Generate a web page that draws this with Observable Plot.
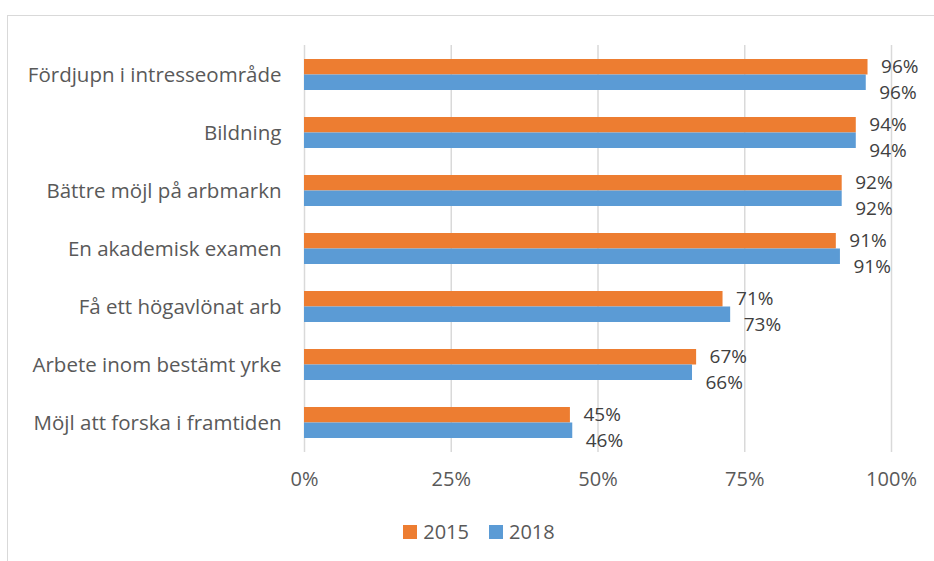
<!DOCTYPE html>
<html>
<head>
<meta charset="utf-8">
<script src="https://cdn.jsdelivr.net/npm/d3@7"></script>
<script src="https://cdn.jsdelivr.net/npm/@observablehq/plot@0.6"></script>
<style>
  html, body { margin: 0; padding: 0; background: #fff; overflow: hidden; }
  #wrap { position: relative; width: 934px; height: 561px; }
  #frame { position: absolute; left: 7px; top: 15px; width: 1000px; height: 1000px;
           border: 1.5px solid #d9d9d9; box-sizing: border-box; }
  #chart { position: absolute; left: 0; top: 0; }
  #legend { position: absolute; left: 24px; top: 518px; width: 910px; display: flex;
            justify-content: center; align-items: center; gap: 0;
            font-family: "Open Sans", sans-serif; font-size: 20px; color: #595959; }
  .item { display: flex; align-items: center; margin: 0 10px 0 10px; }
  .sw { width: 14px; height: 14px; margin-right: 6px; }
</style>
</head>
<body>
<div id="wrap">
  <div id="frame"></div>
  <div id="chart"></div>
  <div id="legend"></div>
</div>
<script>
const categories = [
  "Fördjupn i intresseområde",
  "Bildning",
  "Bättre möjl på arbmarkn",
  "En akademisk examen",
  "Få ett högavlönat arb",
  "Arbete inom bestämt yrke",
  "Möjl att forska i framtiden"
];
const values2015 = [96.0, 94.0, 91.6, 90.6, 71.3, 66.8, 45.3];
const values2018 = [95.7, 94.0, 91.6, 91.3, 72.6, 66.1, 45.7];
const series = ["2015", "2018"];
const colors = ["#ED7D31", "#5B9BD5"];
const xTicks = [0, 25, 50, 75, 100];

const d2015 = categories.map((c, i) => ({category: c, value: values2015[i], year: "2015"}));
const d2018 = categories.map((c, i) => ({category: c, value: values2018[i], year: "2018"}));
const fmt = d => `${Math.round(d.value)}%`;
const font = "Open Sans, sans-serif";

const chart = Plot.plot({
  width: 934,
  height: 505,
  marginLeft: 304,
  marginRight: 43,
  marginTop: 45,
  marginBottom: 53,
  style: {fontFamily: font, fontSize: "20px", color: "#595959", background: "transparent"},
  x: {domain: [0, 100], ticks: xTicks, tickFormat: d => d + "%", label: null},
  y: {domain: categories, paddingInner: 0.466, paddingOuter: 0.233, label: null},
  marks: [
    Plot.ruleX(xTicks, {stroke: "#d9d9d9", strokeWidth: 1.5}),
    Plot.barX(d2015, {x: "value", y: "category", fill: colors[0], insetBottom: 15.5}),
    Plot.barX(d2018, {x: "value", y: "category", fill: colors[1], insetTop: 15.5}),
    Plot.text(d2015, {x: "value", y: "category", text: fmt, dx: 13, dy: -8, textAnchor: "start",
                      fill: "#404040", fontSize: 19, lineHeight: 1}),
    Plot.text(d2018, {x: "value", y: "category", text: fmt, dx: 13, dy: 18, textAnchor: "start",
                      fill: "#404040", fontSize: 19, lineHeight: 1}),
    Plot.axisX({ticks: xTicks, tickFormat: d => d + "%", tickSize: 0, tickPadding: 19,
                fontSize: 20, fill: "#595959", label: null}),
    Plot.axisY({tickSize: 0, tickPadding: 23, fontSize: 20.5, fill: "#595959", label: null})
  ]
});
document.getElementById("chart").appendChild(chart);

const legend = document.getElementById("legend");
series.forEach((s, i) => {
  const item = document.createElement("div");
  item.className = "item";
  const sw = document.createElement("div");
  sw.className = "sw";
  sw.style.background = colors[i];
  const lab = document.createElement("span");
  lab.textContent = s;
  item.appendChild(sw);
  item.appendChild(lab);
  legend.appendChild(item);
});
</script>
</body>
</html>
